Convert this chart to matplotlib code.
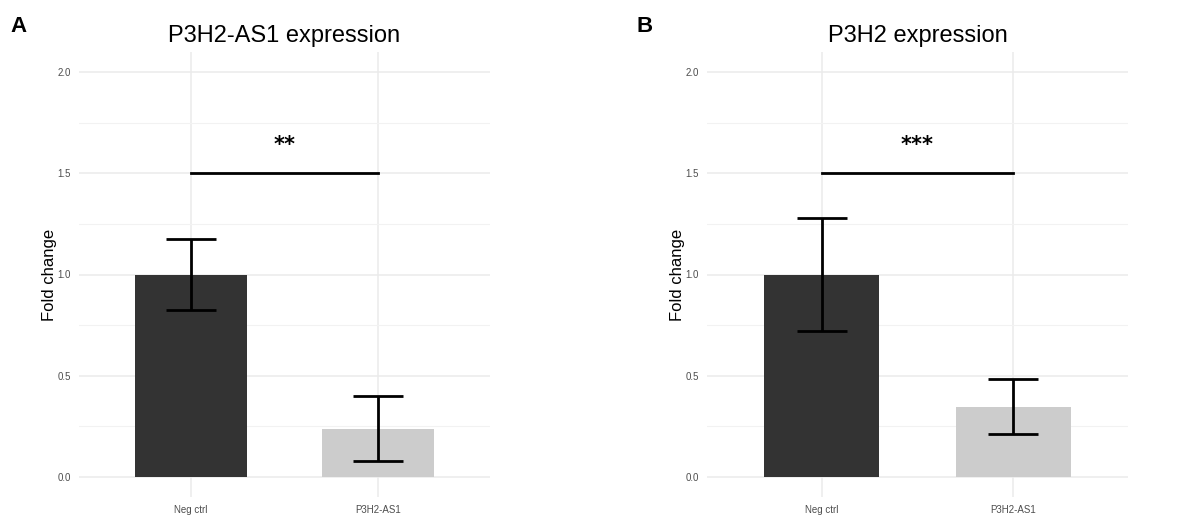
import matplotlib
matplotlib.use("Agg")
import matplotlib.pyplot as plt
import numpy as np

categories = ["Neg ctrl", "P3H2-AS1"]
titles = ["P3H2-AS1 expression", "P3H2 expression"]
panel_letters = ["A", "B"]
means_a = [1.0, 0.238]
err_a = [0.175, 0.162]
means_b = [1.0, 0.347]
err_b = [0.278, 0.138]
sig_labels = ["**", "***"]
sig_y = 1.5
yticks = [0.0, 0.5, 1.0, 1.5, 2.0]
bar_colors = ["#333333", "#CCCCCC"]

plt.rcParams['font.family'] = ['Liberation Sans', 'DejaVu Sans']

W, H = 1189, 516
fig = plt.figure(figsize=(W / 100, H / 100), dpi=100)

panels = [
    (means_a, err_a, 79, 490),
    (means_b, err_b, 707, 1128),
]
letter_x = [10, 637]

for i, (means, errs, x0, x1) in enumerate(panels):
    top, bot = 52, 497
    ax = fig.add_axes([x0 / W, (H - bot) / H, (x1 - x0) / W, (bot - top) / H])
    x = np.arange(1, len(categories) + 1)
    ax.bar(x, means, width=0.6, color=bar_colors, zorder=2)
    ax.errorbar(x, means, yerr=errs, fmt="none", ecolor="black", elinewidth=2,
                capsize=18, capthick=2, zorder=3)
    ax.plot([x[0], x[1]], [sig_y, sig_y], color="black", lw=2, zorder=3)
    ax.text((x[0] + x[1]) / 2, sig_y + 0.09, sig_labels[i], ha="center", va="bottom",
            fontsize=15, fontweight="bold", family="DejaVu Sans")
    ax.set_xlim(0.4, 2.6)
    ax.set_ylim(-0.1, 2.1)
    ax.set_yticks(yticks)
    ax.set_yticklabels([f"{v:.1f}" for v in yticks])
    ax.set_yticks([0.25, 0.75, 1.25, 1.75], minor=True)
    ax.set_xticks(x)
    ax.set_xticklabels(categories)
    ax.grid(True, which="major", color="#EBEBEB", lw=1.1, zorder=0)
    ax.grid(True, which="minor", axis="y", color="#F2F2F2", lw=0.8, zorder=0)
    ax.set_axisbelow(True)
    for s in ax.spines.values():
        s.set_visible(False)
    ax.tick_params(axis="both", which="both", length=0, labelsize=7, labelcolor="#4D4D4D", pad=6)
    ax.set_ylabel("Fold change", fontsize=12, labelpad=0)
    ax.set_title(titles[i], fontsize=17, pad=7)
    fig.text(letter_x[i] / W, 1 - 26 / H, panel_letters[i], fontsize=16, fontweight="bold",
             va="center", ha="left")

fig.savefig("out.png", dpi=100)
